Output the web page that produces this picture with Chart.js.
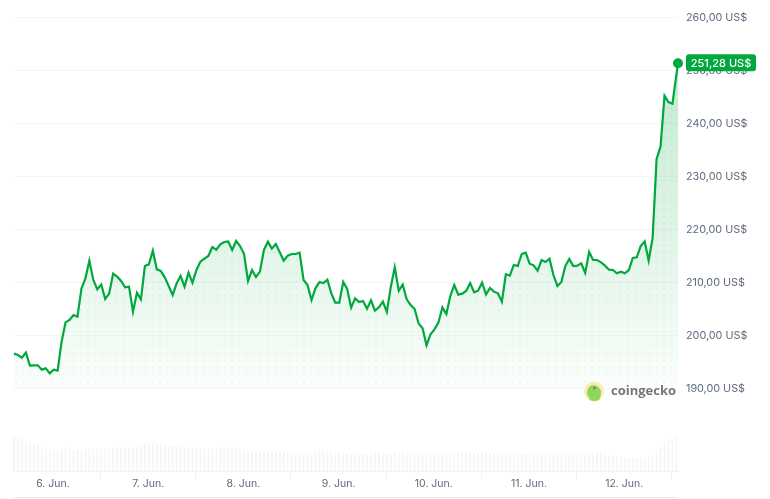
<!DOCTYPE html>
<html>
<head>
<meta charset="utf-8">
<title>Kurs</title>
<script src="https://cdn.jsdelivr.net/npm/chart.js@4"></script>
<style>
    html, body { margin: 0; padding: 0; background: #fff; }
    canvas { display: block; }
</style>
</head>
<body>
<canvas id="grafico" width="770" height="499"></canvas>
<script>
// values, one per hour
var prices = [
    196.48,196.23,195.72,196.67,194.21,194.28,194.28,193.46,193.71,192.77,
    193.46,193.27,198.74,202.39,202.83,203.77,203.46,208.74,210.69,214.03,
    210.38,208.62,209.50,206.79,207.86,211.57,211.01,210.19,208.99,209.12,
    204.40,207.99,206.73,213.02,213.33,215.91,212.39,212.08,210.88,209.25,
    207.55,209.75,211.13,209.12,211.76,209.87,212.26,213.84,214.40,214.91,
    216.60,216.10,217.11,217.55,217.67,216.04,217.74,216.79,215.28,210.19,
    212.26,210.94,211.95,216.04,217.61,216.29,217.17,215.60,214.03,214.97,
    215.28,215.28,215.53,210.38,209.43,206.60,208.81,210.00,209.81,210.44,
    207.86,206.10,206.10,210.00,208.68,205.16,206.92,206.23,206.42,204.97,
    206.54,204.59,205.22,206.29,204.34,209.12,212.77,208.36,209.50,206.73,
    205.66,204.91,202.20,201.26,198.05,200.13,201.07,202.33,205.22,203.96,
    207.36,209.43,207.61,207.80,208.30,209.81,208.05,208.36,209.87,207.67,
    208.87,208.18,207.86,206.29,211.45,211.19,213.21,213.02,215.28,215.53,
    213.46,213.14,212.14,214.15,213.77,214.40,211.32,209.25,210.00,213.02,
    214.34,213.02,213.08,213.52,211.70,215.66,214.15,214.15,213.71,213.08,
    212.33,212.26,211.64,211.95,211.64,212.26,214.53,214.65,216.79,217.67,
    214.03,218.30,233.21,235.53,245.15,243.96,243.64,251.28
];
var volumes = [
    35,34,32,30,28,27,26,23,22,21,20,21,22,23,22,21,21,21,22,22,
    22,22,22,22,22,23,23,23,23,23,24,24,24,
    27,27,28,28,27,26,25,25,24,24,23,23,23,
    22,22,22,22,22,22,23,23,23,23,23,21,20,20,
    20,20,20,19,19,20,19,19,19,19,18,18,
    17,18,18,18,19,20,20,19,18,18,18,17,17,17,16,16,17,17,17,18,18,17,17,17,
    18,18,18,17,18,18,18,18,18,18,18,18,18,18,17,18,18,18,18,18,17,18,18,18,
    18,17,16,16,16,16,16,16,17,17,17,17,17,16,16,16,16,16,16,16,16,16,16,16,
    16,17,17,18,18,17,16,15,14,14,13,13,13,13,13,14,14,15,20,23,28,31,32,35
];
var priceTicks = [190, 200, 210, 220, 230, 240, 250, 260];
var dayLabels = ['6. Jun.', '7. Jun.', '8. Jun.', '9. Jun.', '10. Jun.', '11. Jun.', '12. Jun.'];
var dayHours = [9.83, 33.83, 57.83, 81.83, 105.83, 129.83, 153.83];
var lastHour = 167.4;

var verde = '#00a83e';
var textoEixo = '#5f6b7e';

function hora(i, total) {
    return i == total - 1 ? lastHour : i;
}

var pontos = prices.map(function (p, i) {
    return { x: hora(i, prices.length), y: p };
});
var barras = volumes.map(function (v, i) {
    return { x: i, y: v };
});

function formato(v) {
    return v.toFixed(2).replace('.', ',') + ' US$';
}

// dotted texture on top of the green gradient
function padraoPontos(ctx) {
    var c = document.createElement('canvas');
    c.width = 36;
    c.height = 36;
    var p = c.getContext('2d');
    p.fillStyle = 'rgba(0,168,62,0.055)';
    for (var i = -1; i < 6; i++) {
        for (var j = -1; j < 6; j++) {
            p.beginPath();
            p.arc(1.6 + i * 7.2, 0.4 + j * 7.2, 1.2, 0, Math.PI * 2);
            p.fill();
        }
    }
    return ctx.createPattern(c, 'repeat');
}

var ctx = document.getElementById('grafico').getContext('2d');

var gradiente = ctx.createLinearGradient(0, 60, 0, 388);
gradiente.addColorStop(0, 'rgba(0,168,62,0.24)');
gradiente.addColorStop(1, 'rgba(0,168,62,0.015)');

var extras = {
    id: 'extras',
    afterDraw: function (chart) {
        var c = chart.ctx;
        var yy = chart.scales.y.getPixelForValue(prices[prices.length - 1]);

        // current price badge
        c.save();
        c.fillStyle = verde;
        c.beginPath();
        c.roundRect(686, yy - 9, 70, 17, 3);
        c.fill();
        c.fillStyle = '#fff';
        c.font = '500 11px Inter';
        c.textAlign = 'center';
        c.textBaseline = 'middle';
        c.fillText(formato(prices[prices.length - 1]), 721, yy);

        // logo
        c.fillStyle = '#fbeeac';
        c.beginPath();
        c.arc(594, 391.5, 10, 0, Math.PI * 2);
        c.fill();
        c.fillStyle = '#8ed65f';
        c.beginPath();
        c.moveTo(587, 394);
        c.quadraticCurveTo(587, 385, 594, 385);
        c.quadraticCurveTo(599, 386, 601, 391);
        c.quadraticCurveTo(601, 397, 599, 400);
        c.quadraticCurveTo(594, 402, 590, 400);
        c.closePath();
        c.fill();
        c.fillStyle = '#777';
        c.beginPath();
        c.arc(594.5, 388, 1.3, 0, Math.PI * 2);
        c.fill();
        c.fillStyle = '#777';
        c.font = '700 13px "Open Sans"';
        c.textAlign = 'left';
        c.fillText('coingecko', 611, 391);

        // navigator edge at the bottom
        c.strokeStyle = '#ececec';
        c.lineWidth = 1;
        c.beginPath();
        c.moveTo(14, 497.5);
        c.lineTo(678, 497.5);
        c.stroke();
        c.restore();
    }
};

var grafico = new Chart(ctx, {
    type: 'line',
    data: {
        datasets: [
            {
                data: pontos,
                yAxisID: 'y',
                borderColor: verde,
                borderWidth: 2.2,
                tension: 0,
                clip: false,
                fill: { value: 190 },
                backgroundColor: gradiente,
                pointRadius: prices.map(function (p, i) { return i == prices.length - 1 ? 5 : 0; }),
                pointBackgroundColor: verde,
                pointBorderWidth: 0,
                order: 1
            },
            {
                data: pontos,
                yAxisID: 'y',
                borderWidth: 0,
                pointRadius: 0,
                tension: 0,
                fill: { value: 190 },
                backgroundColor: padraoPontos(ctx),
                order: 2
            },
            {
                type: 'bar',
                data: barras,
                yAxisID: 'volume',
                backgroundColor: '#f4f5f8',
                barThickness: 1,
                clip: false,
                order: 3
            }
        ]
    },
    options: {
        responsive: false,
        animation: false,
        events: [],
        layout: { padding: { left: 14, top: 17, right: 0, bottom: 0 } },
        plugins: {
            legend: { display: false },
            title: { display: false },
            tooltip: { enabled: false }
        },
        scales: {
            x: {
                type: 'linear',
                min: 0,
                max: lastHour,
                offset: false,
                afterBuildTicks: function (scale) {
                    scale.ticks = dayHours.map(function (h) { return { value: h }; });
                },
                afterFit: function (scale) { scale.height = 28; },
                grid: { drawOnChartArea: false, tickLength: 8, tickColor: '#eef0f3' },
                border: { color: '#f1f2f5' },
                ticks: {
                    autoSkip: false,
                    maxRotation: 0,
                    padding: -1,
                    color: textoEixo,
                    font: { family: 'Inter', size: 10.5 },
                    callback: function (v) {
                        return dayLabels[dayHours.indexOf(v)];
                    }
                }
            },
            y: {
                position: 'right',
                min: 174.34,
                max: 260,
                afterBuildTicks: function (scale) {
                    scale.ticks = priceTicks.map(function (v) { return { value: v }; });
                },
                afterFit: function (scale) { scale.width = 92; },
                grid: { color: '#f6f6f7', drawTicks: false },
                border: { display: false },
                ticks: {
                    padding: 8,
                    labelOffset: 1,
                    color: textoEixo,
                    font: { family: 'Inter', size: 10.8 },
                    callback: function (v) { return formato(v); }
                }
            },
            volume: {
                display: false,
                min: 0,
                max: 454
            }
        }
    },
    plugins: [extras]
});
</script>
</body>
</html>
